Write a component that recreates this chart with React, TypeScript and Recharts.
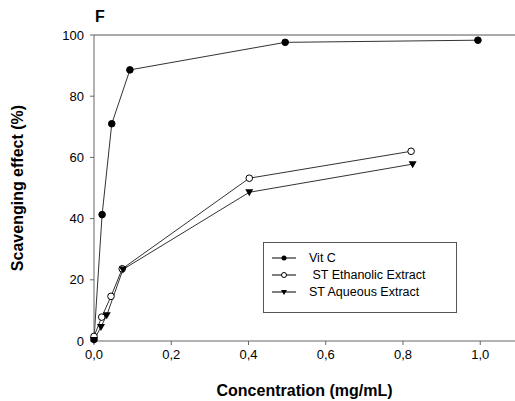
import { LineChart, Line, XAxis, YAxis, ReferenceLine } from "recharts";

// concentration (mg/mL) / scavenging effect (%)
const vitC = [
  { x: 0, y: 0.5 },
  { x: 0.021, y: 41.3 },
  { x: 0.046, y: 71 },
  { x: 0.093, y: 88.6 },
  { x: 0.495, y: 97.6 },
  { x: 0.994, y: 98.3 },
];
const ethanolic = [
  { x: 0, y: 1.5 },
  { x: 0.02, y: 7.8 },
  { x: 0.044, y: 14.6 },
  { x: 0.073, y: 23.6 },
  { x: 0.402, y: 53.2 },
  { x: 0.821, y: 62 },
];
const aqueous = [
  { x: 0, y: 0.3 },
  { x: 0.018, y: 4.6 },
  { x: 0.033, y: 8.4 },
  { x: 0.075, y: 23.4 },
  { x: 0.402, y: 48.6 },
  { x: 0.825, y: 57.8 },
];
const xTicks = [0, 0.2, 0.4, 0.6, 0.8, 1.0];
const yTicks = [0, 20, 40, 60, 80, 100];

const LINE = "#333";
const FONT = "'Liberation Sans', Arial, sans-serif";

const FilledDot = (p: any) => <circle key={p.index} cx={p.cx} cy={p.cy} r={3.3} fill="#000" stroke="#000" />;
const OpenDot = (p: any) => <circle key={p.index} cx={p.cx} cy={p.cy} r={3.3} fill="#fff" stroke="#000" strokeWidth={1} />;
const TriDot = (p: any) => (
  <path key={p.index} d={`M${p.cx - 4},${p.cy - 3} L${p.cx + 4},${p.cy - 3} L${p.cx},${p.cy + 4} Z`} fill="#000" />
);

const legendRows = [
  { name: "Vit C", marker: "filled" },
  { name: " ST Ethanolic Extract", marker: "open" },
  { name: "ST Aqueous Extract", marker: "tri" },
];

function LegendBox() {
  return (
    <div style={{ position: "absolute", left: 263, top: 242, border: "1px solid #555", background: "#fff", width: 194, height: 71, boxSizing: "border-box", paddingTop: 6, fontFamily: FONT, fontSize: 12.5, color: "#000" }}>
      {legendRows.map((r) => (
        <div key={r.name} style={{ display: "flex", alignItems: "center", height: 17 }}>
          <svg width={37} height={10} style={{ marginLeft: 8 }}>
            <line x1={0} y1={5} x2={24} y2={5} stroke="#000" strokeWidth={1} />
            {r.marker === "filled" && <circle cx={12} cy={5} r={2.5} fill="#000" />}
            {r.marker === "open" && <circle cx={12} cy={5} r={2.5} fill="#fff" stroke="#000" />}
            {r.marker === "tri" && <path d="M9,3 L15,3 L12,8 Z" fill="#000" />}
          </svg>
          <span style={{ whiteSpace: "pre" }}>{r.name}</span>
        </div>
      ))}
    </div>
  );
}

export default function App() {
  return (
    <div style={{ position: "absolute", left: 0, top: 0, width: 515, height: 401, background: "#fff", overflow: "hidden" }}>
      <LineChart width={515} height={401} margin={{ top: 35, right: 0, left: 0, bottom: 0 }}>
        <XAxis
          type="number"
          dataKey="x"
          domain={[0, 1.09]}
          ticks={xTicks}
          tickFormatter={(v: number) => v.toFixed(1).replace(".", ",")}
          axisLine={{ stroke: "#666" }}
          tickLine={{ stroke: "#666" }}
          tickSize={4}
          tickMargin={5}
          height={60}
          tick={{ fill: "#000", fontSize: 13, fontFamily: FONT }}
          label={{ value: "Concentration (mg/mL)", position: "insideBottom", offset: 5, style: { fontFamily: FONT, fontSize: 16, fontWeight: "bold", fill: "#000" } }}
          allowDuplicatedCategory={false}
        />
        <YAxis
          type="number"
          dataKey="y"
          domain={[0, 100]}
          ticks={yTicks}
          axisLine={{ stroke: "#666" }}
          tickLine={{ stroke: "#666" }}
          tickSize={4}
          tickMargin={6}
          width={94}
          tick={{ fill: "#000", fontSize: 13, fontFamily: FONT }}
          label={{ value: "Scavenging effect (%)", angle: -90, position: "insideLeft", offset: 17, style: { textAnchor: "middle", fontFamily: FONT, fontSize: 16, fontWeight: "bold", fill: "#000" } }}
        />
        <ReferenceLine y={100} stroke="#555" ifOverflow="extendDomain" />
        <Line data={vitC} dataKey="y" name="Vit C" stroke={LINE} strokeWidth={1} dot={FilledDot} isAnimationActive={false} />
        <Line data={ethanolic} dataKey="y" name="ST Ethanolic Extract" stroke={LINE} strokeWidth={1} dot={OpenDot} isAnimationActive={false} />
        <Line data={aqueous} dataKey="y" name="ST Aqueous Extract" stroke={LINE} strokeWidth={1} dot={TriDot} isAnimationActive={false} />
        <text x={95} y={22} fontFamily={FONT} fontSize={16} fontWeight="bold" fill="#000">F</text>
      </LineChart>
      <LegendBox />
    </div>
  );
}
